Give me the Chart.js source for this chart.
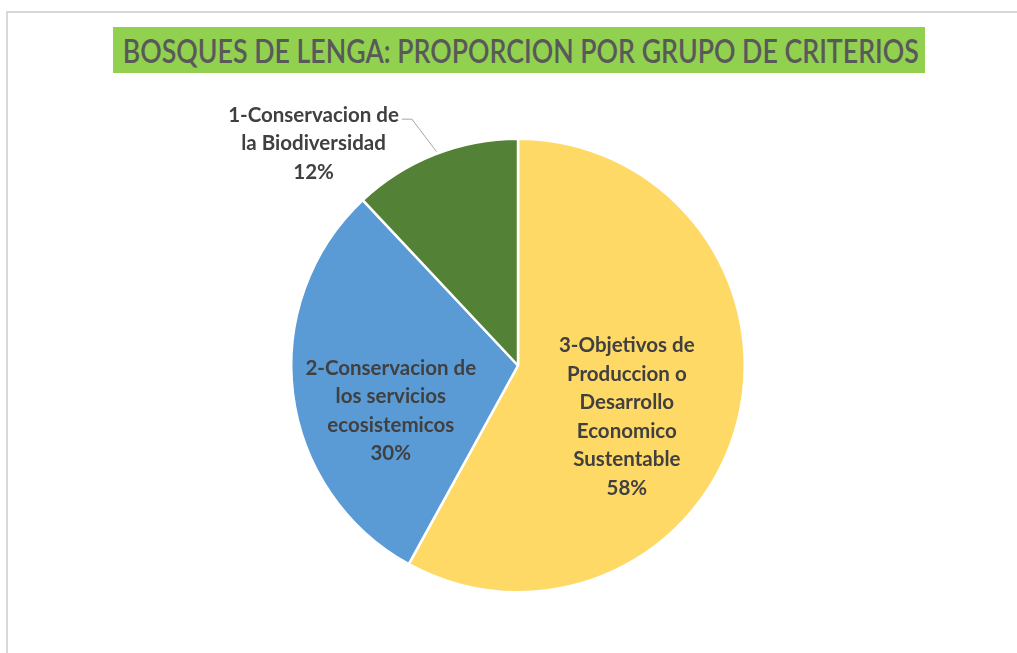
<!DOCTYPE html>
<html>
<head>
<meta charset="utf-8">
<script src="https://cdn.jsdelivr.net/npm/chart.js@4"></script>
<style>
  html, body { margin: 0; padding: 0; background: #fff; }
  #wrap { position: relative; width: 1017px; height: 653px; overflow: hidden; }
  #frame { position: absolute; left: 6px; top: 11px; width: 1100px; height: 700px; border-left: 2px solid #d9d9d9; border-top: 2px solid #d9d9d9; box-sizing: border-box; }
  #title { position: absolute; left: 113px; top: 27px; width: 812px; height: 46px; background: #92d050;
           color: #595959; font-family: Lato, "Open Sans", sans-serif; font-size: 33px; font-weight: 600; line-height: 46px;
           white-space: nowrap; overflow: visible; }
  #title span { position: absolute; top: 0; left: 0; display: inline-block; transform-origin: center; }
  #c { position: absolute; left: 0; top: 0; }
</style>
</head>
<body>
<div id="wrap">
  <div id="frame"></div>
  <canvas id="c" width="1017" height="653"></canvas>
  <div id="title"><span id="tt">BOSQUES DE LENGA: PROPORCION POR GRUPO DE CRITERIOS</span></div>
</div>
<script>
const categories = [
  ["3-Objetivos de", "Produccion o", "Desarrollo", "Economico", "Sustentable"],
  ["2-Conservacion de", "los servicios", "ecosistemicos"],
  ["1-Conservacion de", "la Biodiversidad"]
];
const values = [58, 30, 12];
const percentLabels = ["58%", "30%", "12%"];
const colors = ["#ffd966", "#5b9bd5", "#538135"];

// fit title width and centre it in the green box
(function(){
  const t = document.getElementById('tt');
  const w = t.getBoundingClientRect().width;
  const target = 796;
  t.style.left = ((812 - w) / 2 + 2) + 'px';
  t.style.transform = 'scaleX(' + (target / w) + ')';
})();

const labelFont = 'bold 20.5px Lato, "Open Sans", sans-serif';
const lineH = 28.5;

const labelPlugin = {
  id: 'sliceLabels',
  afterDatasetsDraw(chart) {
    const ctx = chart.ctx;
    const meta = chart.getDatasetMeta(0);
    ctx.save();
    ctx.font = labelFont;
    ctx.fillStyle = '#404040';
    ctx.textAlign = 'center';
    ctx.textBaseline = 'middle';
    meta.data.forEach((arc, i) => {
      const p = arc.getProps(['x', 'y', 'startAngle', 'endAngle', 'outerRadius'], true);
      const mid = (p.startAngle + p.endAngle) / 2;
      const lines = categories[i].concat([percentLabels[i]]);
      let cx, cy;
      if (i === 2) {
        const ex = p.x + Math.cos(mid) * p.outerRadius;
        const ey = p.y + Math.sin(mid) * p.outerRadius;
        cx = ex - 121; cy = ey - 11;
        const firstY = cy - (lines.length - 1) * lineH / 2;
        lines.forEach((l, k) => ctx.fillText(l, cx, firstY + k * lineH));
        const w0 = ctx.measureText(lines[0]).width;
        ctx.strokeStyle = '#a6a6a6';
        ctx.lineWidth = 1;
        ctx.beginPath();
        ctx.moveTo(cx + w0 / 2 + 3, firstY + 4);
        ctx.lineTo(cx + w0 / 2 + 13, firstY + 4);
        ctx.lineTo(ex + 2, ey - 3);
        ctx.stroke();
      } else {
        const rf = i === 0 ? 0.50 : 0.57;
        cx = p.x + Math.cos(mid) * p.outerRadius * rf;
        cy = p.y + Math.sin(mid) * p.outerRadius * rf;
        if (i === 0) { cx -= 1; cy += 23; } else { cx += 1; cy += 29; }
        const top = cy - (lines.length - 1) * lineH / 2;
        lines.forEach((l, k) => ctx.fillText(l, cx, top + k * lineH));
      }
    });
    ctx.restore();
  }
};

new Chart(document.getElementById('c'), {
  type: 'pie',
  data: {
    labels: categories.map(c => c.join(' ')),
    datasets: [{
      data: values,
      backgroundColor: colors,
      borderColor: '#ffffff',
      borderWidth: 2.5
    }]
  },
  options: {
    responsive: false,
    animation: false,
    events: [],
    layout: { padding: { top: 137.5, bottom: 59.5, left: 290, right: 271 } },
    plugins: {
      legend: { display: false },
      tooltip: { enabled: false },
      title: { display: false }
    }
  },
  plugins: [labelPlugin]
});
</script>
</body>
</html>
